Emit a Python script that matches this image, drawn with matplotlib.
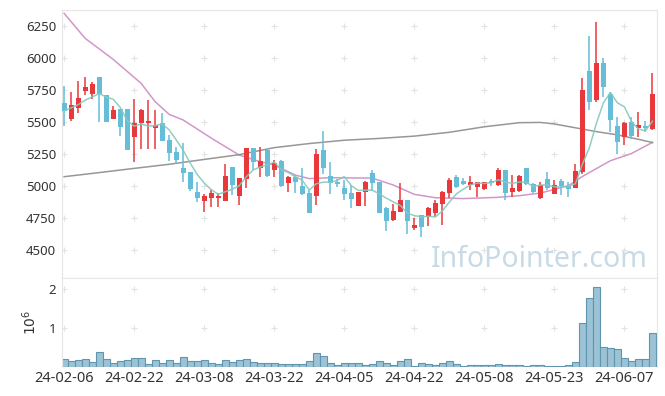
import numpy as np
import pandas as pd
import matplotlib
matplotlib.use("Agg")
import matplotlib.pyplot as plt

plt.rcParams['font.family'] = ['Noto Sans', 'DejaVu Sans']

# OHLC, trading days from 2024-02-06
opens = [5646, 5526, 5612, 5745, 5716, 5854, 5711, 5526, 5599, 5599,
         5385, 5495, 5489, 5456, 5495, 5359, 5263, 5143, 5112, 4956,
         4885, 4909, 4909, 4883, 5151, 4925, 5055, 5294, 5138, 5281,
         5125, 5195, 5026, 5073, 5003, 4943, 4925, 5281, 5081, 5026,
         4987, 4948, 4846, 4951, 5104, 5029, 4826, 4732, 4800, 4891,
         4675, 4773, 4760, 4792, 4857, 4943, 5073, 5042, 5008, 4995,
         4974, 5034, 5008, 5125, 4956, 4964, 5138, 5016, 4909, 5055,
         4935, 5039, 5003, 4982, 5112, 5898, 5672, 5958, 5719, 5469,
         5385, 5497, 5456, 5470, 5445]
highs = [5781, 5737, 5820, 5849, 5815, 5854, 5711, 5625, 5599, 5599,
         5677, 5600, 5672, 5594, 5568, 5398, 5302, 5333, 5112, 5034,
         4935, 4969, 4948, 5169, 5151, 5060, 5294, 5294, 5307, 5281,
         5203, 5203, 5078, 5086, 5143, 4969, 5289, 5430, 5190, 5055,
         5047, 5008, 4956, 5039, 5125, 5029, 4839, 4857, 5026, 4891,
         4747, 4773, 4833, 4891, 4961, 5060, 5086, 5060, 5078, 5034,
         5034, 5052, 5138, 5125, 5086, 5086, 5138, 5021, 5034, 5107,
         5047, 5055, 5034, 5169, 5841, 6175, 6279, 5997, 5732, 5542,
         5497, 5542, 5575, 5510, 5880]
lows = [5469, 5508, 5568, 5711, 5680, 5497, 5497, 5521, 5391, 5281,
        5190, 5286, 5286, 5286, 5354, 5198, 5172, 5034, 4961, 4872,
        4794, 4839, 4839, 4883, 4930, 4852, 4982, 5125, 5073, 5073,
        5073, 4995, 4956, 4943, 4930, 4792, 4852, 5091, 4935, 4995,
        4891, 4831, 4846, 4844, 4961, 4786, 4649, 4727, 4800, 4622,
        4656, 4604, 4688, 4760, 4695, 4904, 4987, 5008, 4969, 4917,
        4969, 4999, 4999, 4891, 4917, 4956, 5008, 4943, 4898, 4969,
        4935, 4930, 4917, 4982, 5091, 5594, 5659, 5698, 5419, 5247,
        5320, 5367, 5385, 5420, 5437]
closes = [5588, 5633, 5685, 5776, 5797, 5719, 5503, 5594, 5464, 5281,
          5495, 5594, 5510, 5477, 5354, 5260, 5203, 5104, 4977, 4909,
          4925, 4948, 4917, 5078, 5008, 5060, 5294, 5190, 5195, 5081,
          5177, 5003, 5073, 5034, 4940, 4792, 5250, 5138, 5026, 5018,
          4938, 4898, 4951, 5029, 5026, 4792, 4727, 4805, 4891, 4727,
          4695, 4677, 4831, 4865, 4956, 5047, 4995, 5013, 5031, 5031,
          5031, 5026, 5125, 4943, 4982, 5081, 5013, 4956, 5008, 4987,
          5008, 5003, 4977, 5117, 5750, 5654, 5958, 5776, 5516, 5346,
          5495, 5393, 5476, 5450, 5719]
# volume in millions
volumes = [0.187, 0.136, 0.162, 0.187, 0.111, 0.366, 0.187, 0.085, 0.136, 0.162,
           0.213, 0.213, 0.06, 0.162, 0.085, 0.162, 0.085, 0.238, 0.136, 0.136,
           0.162, 0.085, 0.06, 0.162, 0.111, 0.162, 0.187, 0.111, 0.085, 0.085,
           0.085, 0.06, 0.06, 0.06, 0.06, 0.136, 0.34, 0.264, 0.085, 0.034,
           0.085, 0.085, 0.085, 0.034, 0.06, 0.136, 0.085, 0.034, 0.136, 0.187,
           0.01, 0.085, 0.06, 0.034, 0.085, 0.136, 0.06, 0.01, 0.034, 0.034,
           0.034, 0.034, 0.06, 0.034, 0.034, 0.034, 0.01, 0.034, 0.034, 0.01,
           0.01, 0.01, 0.034, 0.111, 1.106, 1.745, 2.04, 0.494, 0.468, 0.443,
           0.213, 0.136, 0.187, 0.187, 0.851]

# 20-day and long moving averages
ma20_idx = [0, 3, 7, 11, 13, 15, 17, 21, 25, 28, 30, 33, 35, 38, 44, 47, 50, 53,
            57, 62, 65, 68, 72, 74, 78, 81, 84]
ma20_val = [6349, 6154, 5990, 5802, 5659, 5560, 5516, 5375, 5242, 5190, 5164, 5086,
            5058, 5065, 5062, 5008, 4935, 4909, 4902, 4912, 4925, 4945, 5003, 5075,
            5198, 5254, 5341]
ma_long_idx = [0, 5, 10, 15, 20, 25, 30, 35, 40, 45, 50, 55, 60, 65, 68, 70, 74,
               76, 79, 82, 84]
ma_long_val = [5073, 5105, 5138, 5170, 5208, 5245, 5300, 5332, 5358, 5372, 5390,
               5420, 5463, 5495, 5497, 5485, 5445, 5425, 5400, 5365, 5340]

tick_pos = [0, 10, 20, 30, 40, 50, 60, 70, 80]
tick_labels = ['24-02-06', '24-02-22', '24-03-08', '24-03-22', '24-04-05',
               '24-04-22', '24-05-08', '24-05-23', '24-06-07']

red = '#e8383b'
blue = '#66bdd8'
spine_c = '#e6e6e6'
text_c = '#333333'

x = np.arange(len(closes))
o = np.array(opens)
c = np.array(closes)
up = c >= o
ma5 = pd.Series(closes).rolling(5, min_periods=1).mean()

fig = plt.figure(figsize=(6.65, 3.96), dpi=100)
ax = fig.add_axes([0.0927, 0.2987, 0.8953, 0.676])
axv = fig.add_axes([0.0927, 0.074, 0.8953, 0.2247], sharex=ax)

# candles
colors = np.where(up, red, blue)
ax.vlines(x, lows, highs, colors=colors, linewidth=1.1, zorder=3)
body_h = np.maximum(np.abs(c - o), 12)
body_b = np.minimum(o, c) - (body_h - np.abs(c - o)) / 2
ax.bar(x, body_h, bottom=body_b, width=0.7, color=colors, linewidth=0, zorder=4)

ax.plot(x, ma5, color='#86c9bd', linewidth=1.1, alpha=0.9, zorder=5)
ax.plot(ma20_idx, ma20_val, color='#cc8cc4', linewidth=1.1, alpha=0.9, zorder=2)
ax.plot(ma_long_idx, ma_long_val, color='#8c8c8c', linewidth=1.1, alpha=0.9, zorder=2)

yt = np.arange(4500, 6251, 250)
ax.set_xlim(-0.35, 84.65)
ax.set_ylim(4284, 6375)
ax.set_yticks(yt)
gx, gy = np.meshgrid(tick_pos, yt)
ax.plot(gx.ravel(), gy.ravel(), '+', color='#e2e2e2', markersize=4,
        markeredgewidth=0.8, zorder=1)

ax.text(0.985, 0.04, 'InfoPointer.com', transform=ax.transAxes, ha='right',
        va='baseline', fontsize=20.5, color='#c8dae5', zorder=0)

# volume
axv.bar(x, volumes, width=1.0, color='#9cc3d5', edgecolor='#5f95ae',
        linewidth=0.8, zorder=2)
axv.set_ylim(0, 2.276)
axv.set_yticks([1, 2])
axv.set_ylabel(r'$10^6$', fontsize=10, color=text_c, labelpad=6)
vx, vy = np.meshgrid(tick_pos, [1, 2])
axv.plot(vx.ravel(), vy.ravel(), '+', color='#e2e2e2', markersize=4,
         markeredgewidth=0.8, zorder=1)
axv.set_xticks(tick_pos)
axv.set_xticklabels(tick_labels)

for a in (ax, axv):
    for s in a.spines.values():
        s.set_color(spine_c)
    a.tick_params(length=0, labelsize=9.5, colors=text_c, pad=4)
axv.tick_params(axis='x', labelsize=10.5, pad=3)
axv.spines['bottom'].set_visible(False)
ax.tick_params(labelbottom=False)

fig.savefig('out.png', dpi=100)
